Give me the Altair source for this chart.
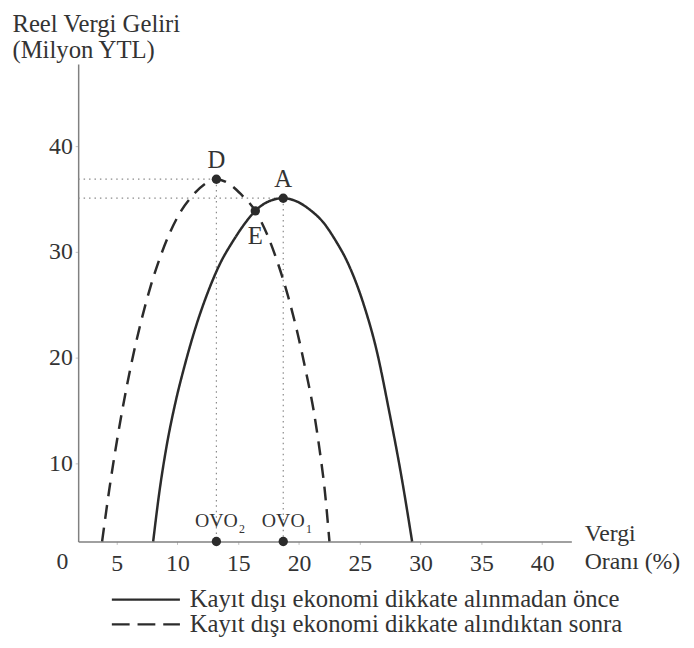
import altair as alt
import pandas as pd

# ---- data ----
solid_x = [8.0, 8.5, 9.1, 9.8, 10.6, 11.5, 12.5, 13.5, 14.6, 15.6, 16.4, 17.5, 18.7,
           19.8, 20.9, 22.0, 23.0, 24.0, 25.3, 26.4, 27.4, 28.4, 29.3]
solid_y = [2.6, 7.2, 11.6, 15.6, 19.3, 22.9, 26.2, 28.9, 31.1, 32.8, 33.9, 34.8, 35.1,
           34.8, 34.0, 32.8, 31.1, 29.0, 25.1, 20.6, 15.0, 8.9, 2.6]

dash_x = [3.8, 4.4, 5.0, 5.6, 6.2, 7.0, 7.8, 8.6, 9.4, 10.3, 11.2, 12.2, 13.2,
          14.2, 15.2, 16.4, 17.4, 18.3, 19.1, 19.9, 20.6, 21.2, 21.7, 22.1, 22.5]
dash_y = [2.6, 7.6, 12.0, 15.9, 19.4, 23.4, 26.8, 29.6, 31.9, 33.9, 35.3, 36.4, 36.9,
          36.5, 35.5, 33.9, 31.6, 28.8, 25.8, 22.2, 18.5, 15.0, 11.2, 7.6, 2.6]

series_names = ["Kayıt dışı ekonomi dikkate alınmadan önce",
                "Kayıt dışı ekonomi dikkate alındıktan sonra"]

point_names = ["D", "A", "E"]
point_x = [13.2, 18.7, 16.4]
point_y = [36.9, 35.1, 33.9]

x_ticks = [5, 10, 15, 20, 25, 30, 35, 40]
y_ticks = [10, 20, 30, 40]

X_MIN, X_MAX = 1.83, 42.4
Y_MIN, Y_MAX = 2.6, 47.8

FONT = "Liberation Serif, Times New Roman, serif"
INK = "#2b2b2b"
TXT = "#333333"
FS = 25

# ---- tables ----
curves = pd.DataFrame(
    [{"x": a, "y": b, "s": series_names[0]} for a, b in zip(solid_x, solid_y)]
    + [{"x": a, "y": b, "s": series_names[1]} for a, b in zip(dash_x, dash_y)]
)
pts = pd.DataFrame({"n": point_names, "x": point_x, "y": point_y})

xs = alt.Scale(domain=[X_MIN, X_MAX], nice=False, zero=False)
ys = alt.Scale(domain=[Y_MIN, Y_MAX], nice=False, zero=False)

hguides = pd.DataFrame({"x": [X_MIN, X_MIN], "x2": [point_x[0], point_x[1]],
                        "y": [point_y[0], point_y[1]]})
vguides = pd.DataFrame({"x": [point_x[0], point_x[1]], "y": [point_y[0], point_y[1]],
                        "y2": [Y_MIN, Y_MIN]})

base_axes = alt.Chart(curves).mark_line(opacity=0).encode(
    x=alt.X("x:Q", scale=xs, axis=alt.Axis(
        values=x_ticks, title=None, grid=False, domainColor="#808080", domainWidth=1.5,
        tickColor="#c0c0c0", tickSize=3, labelFont=FONT, labelFontSize=24,
        labelColor=TXT, labelPadding=7)),
    y=alt.Y("y:Q", scale=ys, axis=alt.Axis(
        values=y_ticks, grid=False, domainColor="#808080", domainWidth=1.5,
        tickColor="#c0c0c0", tickSize=3, labelFont=FONT, labelFontSize=24,
        labelColor=TXT, labelPadding=3,
        title=["Reel Vergi Geliri", "(Milyon YTL)"], titleAngle=0,
        titleAlign="left", titleBaseline="top", titleX=-67, titleY=-53,
        titleFont=FONT, titleFontSize=FS, titleFontWeight="normal",
        titleColor=TXT, titleLineHeight=26)),
)

hrule = alt.Chart(hguides).mark_rule(color="#8a8a8a", strokeWidth=1.2, strokeDash=[1.5, 4]).encode(
    x=alt.X("x:Q", scale=xs), x2="x2:Q", y=alt.Y("y:Q", scale=ys))
vrule = alt.Chart(vguides).mark_rule(color="#8a8a8a", strokeWidth=1.2, strokeDash=[1.5, 4]).encode(
    x=alt.X("x:Q", scale=xs), y=alt.Y("y:Q", scale=ys), y2="y2:Q")

dash_scale = alt.Scale(domain=series_names, range=[[1, 0], [14, 9]])

lines = alt.Chart(curves).mark_line(color=INK, strokeWidth=2.5, interpolate="monotone").encode(
    x=alt.X("x:Q", scale=xs),
    y=alt.Y("y:Q", scale=ys),
    strokeDash=alt.StrokeDash("s:N", scale=dash_scale, legend=None),
    order="x:Q",
)

dots = alt.Chart(pts).mark_circle(color=INK, size=90, opacity=1).encode(
    x=alt.X("x:Q", scale=xs), y=alt.Y("y:Q", scale=ys))

lab_above = alt.Chart(pts).transform_filter(alt.datum.n != "E").mark_text(
    font=FONT, fontSize=FS, color=TXT, dy=-19).encode(
    x=alt.X("x:Q", scale=xs), y=alt.Y("y:Q", scale=ys), text="n:N")
lab_below = alt.Chart(pts).transform_filter(alt.datum.n == "E").mark_text(
    font=FONT, fontSize=FS, color=TXT, dy=26).encode(
    x=alt.X("x:Q", scale=xs), y=alt.Y("y:Q", scale=ys), text="n:N")

ovo = pd.DataFrame({"x": [point_x[0], point_x[1]], "y": [Y_MIN, Y_MIN],
                    "lab": ["OVO", "OVO"], "sub": ["2", "1"]})
ovo_dots = alt.Chart(ovo).mark_circle(color=INK, size=90, opacity=1).encode(
    x=alt.X("x:Q", scale=xs), y=alt.Y("y:Q", scale=ys))
ovo_txt = alt.Chart(ovo).mark_text(font=FONT, fontSize=20, color=TXT, dy=-21).encode(
    x=alt.X("x:Q", scale=xs), y=alt.Y("y:Q", scale=ys), text="lab:N")
ovo_sub = alt.Chart(ovo).mark_text(font=FONT, fontSize=12, color=TXT, dx=26, dy=-13).encode(
    x=alt.X("x:Q", scale=xs), y=alt.Y("y:Q", scale=ys), text="sub:N")

corner = pd.DataFrame({"x": [0.53], "y": [0.65], "t": ["0"]})
corner_txt = alt.Chart(corner).mark_text(font=FONT, fontSize=24, color=TXT).encode(
    x=alt.X("x:Q", scale=xs), y=alt.Y("y:Q", scale=ys), text="t:N")
xt = pd.DataFrame({"x": [43.5, 43.5], "y": [3.3, 0.6], "t": ["Vergi", "Oranı (%)"]})
xt_txt = alt.Chart(xt).mark_text(font=FONT, fontSize=24, color=TXT, align="left").encode(
    x=alt.X("x:Q", scale=xs), y=alt.Y("y:Q", scale=ys), text="t:N")

# hand-made legend under the x axis
leg = pd.DataFrame({"s": series_names, "x": [4.6, 4.6], "x2": [10.2, 10.2],
                    "tx": [11.0, 11.0], "y": [-2.9, -5.25]})
leg_lines = alt.Chart(leg).mark_rule(color=INK, strokeWidth=2.2).encode(
    x=alt.X("x:Q", scale=xs), x2="x2:Q", y=alt.Y("y:Q", scale=ys),
    strokeDash=alt.StrokeDash("s:N", scale=alt.Scale(domain=series_names, range=[[1, 0], [18, 8]]),
                              legend=None))
leg_txt = alt.Chart(leg).mark_text(font=FONT, fontSize=FS, color=TXT, align="left").encode(
    x=alt.X("tx:Q", scale=xs), y=alt.Y("y:Q", scale=ys), text="s:N")

chart = alt.layer(
    base_axes, hrule, vrule, lines, dots, ovo_dots, ovo_txt, ovo_sub,
    lab_above, lab_below, corner_txt, xt_txt, leg_lines, leg_txt
).resolve_scale(strokeDash="independent").properties(
    width=499, height=483,
    padding={"left": 71, "top": 53, "right": 116, "bottom": 100},
    autosize=alt.AutoSizeParams(type="none"),
    background="white",
).configure_view(stroke=None)

chart.save("out.html", embed_options={"renderer": "svg", "actions": False})
